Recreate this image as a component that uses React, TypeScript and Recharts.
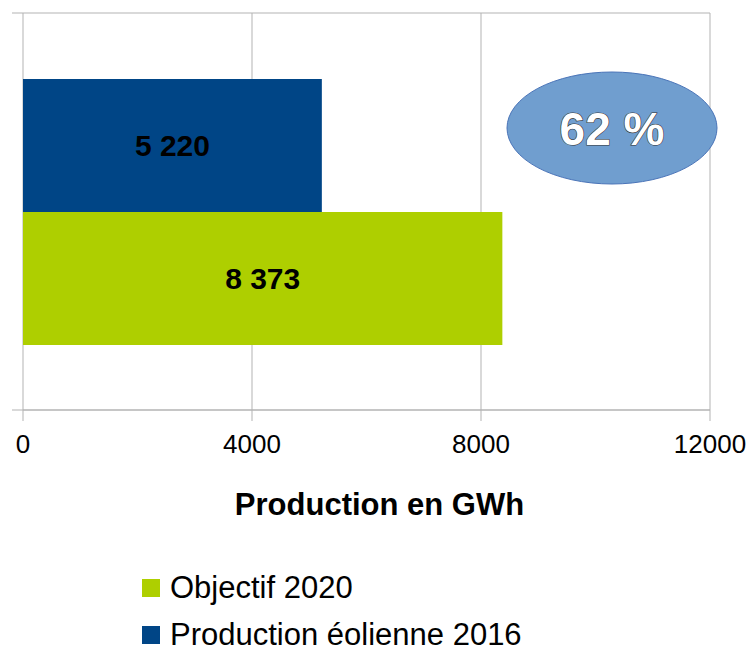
import React from "react";
import {
  BarChart,
  Bar,
  XAxis,
  YAxis,
  CartesianGrid,
  Legend,
  LabelList,
} from "recharts";

const CATEGORIES = ["Éolien"];
const PRODUCTION_2016 = [5220];
const OBJECTIF_2020 = [8373];
const X_TICKS = [0, 4000, 8000, 12000];
const LEGEND_ORDER = ["Objectif 2020", "Production éolienne 2016"];

const BLUE = "#004586";
const GREEN = "#aecf00";
const GRID = "#b3b3b3";
const FONT = "'Liberation Sans', Arial, sans-serif";

const data = CATEGORIES.map((name, i) => ({
  name,
  production: PRODUCTION_2016[i],
  objectif: OBJECTIF_2020[i],
}));

const ratio = Math.round((PRODUCTION_2016[0] / OBJECTIF_2020[0]) * 100);

// "5 220" style thousands separator
const fmt = (v: any) =>
  String(v).replace(/\B(?=(\d{3})+(?!\d))/g, " ");

const renderLegend = (props: any) => {
  const items = [...(props.payload || [])].sort(
    (a: any, b: any) => LEGEND_ORDER.indexOf(a.value) - LEGEND_ORDER.indexOf(b.value)
  );
  return (
    <div style={{ fontFamily: FONT, fontSize: 31, color: "#000" }}>
      {items.map((it: any) => (
        <div
          key={it.value}
          style={{ display: "flex", alignItems: "center", height: 47 }}
        >
          <span
            style={{
              display: "inline-block",
              width: 18,
              height: 18,
              background: it.color,
              marginRight: 10,
            }}
          />
          <span>{it.value}</span>
        </div>
      ))}
    </div>
  );
};

export default function App() {
  return (
    <div style={{ position: "absolute", left: 0, top: 0, width: 747, height: 652, background: "#fff" }}>
      <BarChart
        width={747}
        height={652}
        data={data}
        layout="vertical"
        margin={{ top: 13, right: 37, left: 23, bottom: 0 }}
        barCategoryGap={66}
        barGap={0}
      >
        <CartesianGrid
          stroke={GRID}
          horizontalCoordinatesGenerator={({ offset }: any) => [
            offset.top,
            offset.top + offset.height,
          ]}
          horizontal={(p: any) => (
            <line
              key={p.key ?? `h-${p.y1}`}
              x1={p.x1 - 11}
              y1={p.y1}
              x2={p.x2}
              y2={p.y2}
              stroke={GRID}
              strokeWidth={1}
            />
          )}
        />
        <XAxis
          type="number"
          domain={[0, 12000]}
          ticks={X_TICKS}
          interval={0}
          height={242}
          tickSize={11}
          tickMargin={14}
          axisLine={{ stroke: GRID }}
          tickLine={{ stroke: GRID }}
          tick={{ fontSize: 26, fill: "#000", fontFamily: FONT }}
          label={{
            value: "Production en GWh",
            position: "insideTop",
            offset: 83,
            dx: 13,
            style: { fontSize: 31, fontWeight: "bold", fill: "#000", fontFamily: FONT },
          }}
        />
        <YAxis
          type="category"
          dataKey="name"
          width={0}
          tick={false}
          tickLine={false}
          axisLine={{ stroke: GRID }}
        />
        <Legend
          layout="vertical"
          align="center"
          verticalAlign="middle"
          content={renderLegend}
          wrapperStyle={{ position: "absolute", top: 564, left: 142, width: "auto" }}
        />
        <Bar dataKey="production" name="Production éolienne 2016" fill={BLUE} isAnimationActive={false}>
          <LabelList
            dataKey="production"
            position="center"
            formatter={fmt}
            style={{ fontSize: 30, fontWeight: "bold", fill: "#000", fontFamily: FONT }}
          />
        </Bar>
        <Bar dataKey="objectif" name="Objectif 2020" fill={GREEN} isAnimationActive={false}>
          <LabelList
            dataKey="objectif"
            position="center"
            formatter={fmt}
            style={{ fontSize: 30, fontWeight: "bold", fill: "#000", fontFamily: FONT }}
          />
        </Bar>
      </BarChart>
      <svg
        width={747}
        height={652}
        style={{ position: "absolute", left: 0, top: 0, pointerEvents: "none" }}
      >
        <ellipse cx={612} cy={128} rx={105} ry={56} fill="#709ecf" stroke="#4a74b8" strokeWidth={1} />
        <text
          x={612}
          y={145}
          textAnchor="middle"
          fontFamily={FONT}
          fontSize={46}
          fontWeight="bold"
          fill="#fff"
          stroke="#333"
          strokeWidth={1.2}
          paintOrder="stroke"
        >
          {`${ratio} %`}
        </text>
      </svg>
    </div>
  );
}
